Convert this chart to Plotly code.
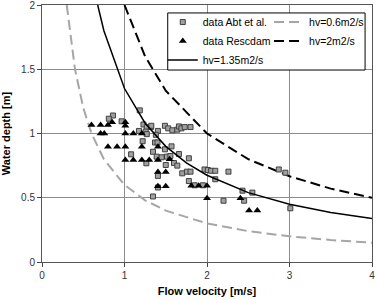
import plotly.graph_objects as go

# Measured data: Abt et al. (squares)
abt_v = [1.185, 0.86, 0.81, 0.965, 1.23, 1.27, 1.32, 1.175, 1.256, 1.27, 1.22, 1.37, 1.40, 1.325,
         1.49, 1.53, 1.58, 1.64, 1.66, 1.69, 1.73, 1.80, 1.405, 1.38, 1.49, 1.57, 1.345, 1.08,
         1.39, 1.45, 1.515, 1.556, 1.60, 1.64, 1.66, 1.78, 1.50, 1.265, 1.405, 1.70, 1.757, 1.80,
         1.78, 1.405, 1.85, 1.95, 1.97, 2.01, 2.05, 2.10, 2.26, 2.10, 2.43, 2.55, 2.45, 2.20,
         3.01, 2.87, 2.95, 1.345]
abt_h = [1.18, 1.14, 1.115, 1.095, 1.07, 1.05, 1.05, 1.02, 1.015, 0.995, 0.94, 0.93, 0.93, 1.06,
         1.06, 1.04, 1.025, 1.03, 1.055, 1.04, 1.05, 1.05, 1.02, 0.99, 0.877, 0.90, 0.858, 0.838,
         0.82, 0.815, 0.82, 0.825, 0.77, 0.75, 0.84, 0.807, 0.755, 0.768, 0.67, 0.69, 0.703, 0.703,
         0.63, 0.58, 0.597, 0.597, 0.72, 0.716, 0.71, 0.71, 0.703, 0.644, 0.555, 0.54, 0.477, 0.477,
         0.418, 0.72, 0.695, 0.51]

# Measured data: Rescdam (triangles)
res_v = [0.60, 0.71, 0.80, 0.85, 1.01, 1.01, 0.71, 0.755, 1.01, 1.107, 1.21, 0.80, 0.91, 1.01,
         1.21, 1.405, 1.01, 1.107, 1.21, 1.30, 1.405, 1.547, 1.405, 1.50, 1.405, 1.50, 1.81, 1.90,
         2.0, 2.0, 2.405, 2.51, 2.61]
res_h = [1.066, 1.066, 1.066, 1.087, 1.087, 1.06, 1.0, 1.0, 1.0, 1.0, 1.0, 0.897, 0.897, 0.897,
         0.897, 0.897, 0.794, 0.794, 0.794, 0.794, 0.794, 0.80, 0.70, 0.70, 0.59, 0.59, 0.594, 0.594,
         0.594, 0.496, 0.496, 0.40, 0.40]

# Constant-discharge curves (hv = const)
q06_v = [0.3, 0.4, 0.5, 0.6, 0.75, 1.0, 1.25, 1.5, 2.0, 2.5, 3.0, 3.5, 4.0]
q06_h = [2.0, 1.5, 1.2, 1.0, 0.8, 0.6, 0.48, 0.4, 0.3, 0.24, 0.2, 0.171, 0.15]
q135_v = [0.675, 0.75, 1.0, 1.25, 1.5, 1.75, 2.0, 2.5, 3.0, 3.5, 4.0]
q135_h = [2.0, 1.8, 1.35, 1.08, 0.9, 0.771, 0.675, 0.54, 0.45, 0.386, 0.3375]
q2_v = [1.0, 1.25, 1.5, 2.0, 2.5, 3.0, 3.5, 4.0]
q2_h = [2.0, 1.6, 1.333, 1.0, 0.8, 0.667, 0.571, 0.5]

x_ticks = [0, 1, 2, 3, 4]
y_ticks = [0, 0.5, 1, 1.5, 2]

FONT = "Liberation Sans, Arial, sans-serif"

fig = go.Figure()
fig.add_trace(go.Scatter(x=q06_v, y=q06_h, mode="lines", name="hv=0.6m2/s",
                         line=dict(color="#a6a6a6", width=2, dash="10px,5px"), legend="legend2"))
fig.add_trace(go.Scatter(x=q2_v, y=q2_h, mode="lines", name="hv=2m2/s",
                         line=dict(color="#000000", width=2, dash="10px,5px"), legend="legend2"))
fig.add_trace(go.Scatter(x=abt_v, y=abt_h, mode="markers", name="data Abt et al.",
                         marker=dict(symbol="square", size=5, color="#a0a0a0",
                                     line=dict(color="#404040", width=1)), legend="legend"))
fig.add_trace(go.Scatter(x=res_v, y=res_h, mode="markers", name="data Rescdam",
                         marker=dict(symbol="triangle-up", size=7, color="#000000"), legend="legend"))
fig.add_trace(go.Scatter(x=q135_v, y=q135_h, mode="lines", name="hv=1.35m2/s",
                         line=dict(color="#000000", width=1.5), legend="legend"))

fig.add_shape(type="rect", xref="paper", yref="paper", x0=0.381, x1=0.979, y0=0.747, y1=0.969,
              fillcolor="white", line=dict(color="#000000", width=1), layer="above")

leg_common = dict(bgcolor="rgba(0,0,0,0)", borderwidth=0, font=dict(family=FONT, size=10.5, color="#000"),
                  xanchor="left", yanchor="top", traceorder="normal", tracegroupgap=0)
fig.update_layout(
    width=377, height=300,
    margin=dict(l=42, r=5, t=5, b=38, autoexpand=False),
    paper_bgcolor="white", plot_bgcolor="white",
    font=dict(family=FONT, size=10, color="#222"),
    legend=dict(x=0.366, y=0.99, **leg_common),
    legend2=dict(x=0.688, y=0.99, **leg_common),
    showlegend=True,
)
fig.update_xaxes(range=[0, 4], tickvals=x_ticks, ticktext=[str(t) for t in x_ticks],
                 automargin=False, ticklabeloverflow="allow",
                 showgrid=True, gridcolor="#8c8c8c", gridwidth=1, zeroline=False,
                 showline=True, linecolor="#555", linewidth=1, mirror=True,
                 ticks="outside", ticklen=4, tickcolor="#444",
                 tickfont=dict(family=FONT, size=10, color="#333"),
                 title=dict(text="Flow velocity [m/s]", standoff=7,
                            font=dict(family=FONT, size=11, color="#000", weight="bold")))
fig.update_yaxes(range=[0, 2], tickvals=y_ticks, ticktext=["0", "0.5", "1", "1.5", "2"],
                 automargin=False, ticklabeloverflow="allow",
                 showgrid=True, gridcolor="#8c8c8c", gridwidth=1, zeroline=False,
                 showline=True, linecolor="#555", linewidth=1, mirror=True,
                 ticks="outside", ticklen=4, tickcolor="#444",
                 tickfont=dict(family=FONT, size=10, color="#333"),
                 title=dict(text="Water depth [m]", standoff=10,
                            font=dict(family=FONT, size=11, color="#000", weight="bold")))

fig.write_html("out.html", config={"displayModeBar": False},
               post_script="document.body.style.margin='0';")
